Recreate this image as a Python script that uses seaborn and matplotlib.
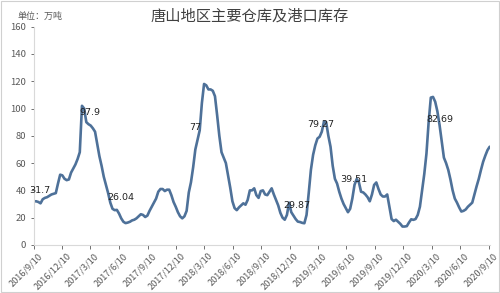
import matplotlib
matplotlib.use("Agg")
import matplotlib.pyplot as plt
import matplotlib.patches as mpatches
import matplotlib.transforms as mtransforms
import seaborn as sns
import pandas as pd
import numpy as np

# ---- data (weekly) ----
start_date = "2016-09-10"
stock = [
    32, 32, 31.5, 30.5, 33.5, 34.5, 35, 36, 37, 37.5,
    38, 45, 51.5, 51, 48.5, 47.5, 48, 53, 56, 59,
    63, 68, 102, 100, 90, 88.5, 87.5, 85.5, 83, 74,
    65, 58, 50, 44, 38, 31, 26.5, 25.5, 25.7, 23,
    19.5, 17, 16, 16.4, 17, 18, 18.5, 19.5, 21, 22.5,
    22, 20.5, 21.5, 25, 28, 31, 34, 39, 41, 41,
    39.5, 40.5, 40.5, 36.5, 31.5, 28, 24, 21, 19.5, 21,
    25, 38.5, 46, 57, 70, 77, 84, 104, 118, 117,
    114, 114, 113, 109, 95, 80, 68, 64, 60, 51,
    42, 32, 27, 25.5, 27.5, 29, 30.5, 29.5, 33, 40,
    40, 41.5, 36.5, 34.5, 39.5, 40, 37, 36.5, 39, 41.5,
    37, 33, 29, 23.5, 20, 18.5, 22, 31, 24, 21.5,
    19, 17.1, 16.8, 16.2, 15.9, 22, 38, 55, 66, 73,
    78, 79.3, 83, 90.5, 90, 80, 72, 58, 48.5, 45,
    39, 34, 30, 27, 24, 26.5, 34, 44, 48.3, 46,
    39, 38.5, 37, 35, 32, 37, 44, 45.8, 41, 37,
    35.5, 35.5, 37, 28, 19, 17.5, 18.5, 17, 15.5, 13.5,
    13.5, 13.8, 16.5, 18.8, 18.4, 19, 22, 28, 40, 52,
    67, 90, 108, 108.5, 105, 98, 88, 76, 64, 60,
    55, 48, 40, 34, 31, 27.5, 24.5, 25, 26, 28,
    29.5, 31, 37, 43, 48.5, 55, 61, 65.5, 69.5, 72,
]
tick_dates = ["2016-09-10", "2016-12-10", "2017-03-10", "2017-06-10", "2017-09-10",
              "2017-12-10", "2018-03-10", "2018-06-10", "2018-09-10", "2018-12-10",
              "2019-03-10", "2019-06-10", "2019-09-10", "2019-12-10", "2020-03-10",
              "2020-06-10", "2020-09-10"]
tick_labels = ["2016/9/10", "2016/12/10", "2017/3/10", "2017/6/10", "2017/9/10",
               "2017/12/10", "2018/3/10", "2018/6/10", "2018/9/10", "2018/12/10",
               "2019/3/10", "2019/6/10", "2019/9/10", "2019/12/10", "2020/3/10",
               "2020/6/10", "2020/9/10"]
# data labels: text, week index, value position
label_texts = ["31.7", "97.9", "26.04", "77", "29.87", "79.27", "39.51", "82.69"]
label_weeks = [2.7, 25.7, 40, 74, 120.4, 131.6, 146.6, 186.2]
label_vals = [40, 97.3, 35, 86, 28.9, 88.2, 48.3, 91.9]

title = "唐山地区主要仓库及港口库存"
unit = "单位：万吨"

# ---- plot ----
sns.set_theme(style="white")
plt.rcParams["font.family"] = ["Noto Sans CJK SC", "DejaVu Sans"]

dates = pd.date_range(start_date, periods=len(stock), freq="7D")
df = pd.DataFrame({"date": dates, "stock": stock})

fig = plt.figure(figsize=(5.0, 2.93), dpi=100)
ax = fig.add_axes([0.068, 0.164, 0.912, 0.745])
sns.lineplot(data=df, x="date", y="stock", ax=ax, color="#4E7199", linewidth=1.9)

ax.set_ylim(0, 160)
ax.set_yticks(range(0, 161, 20))
ax.set_xlim(pd.Timestamp(start_date), pd.Timestamp("2020-09-13"))
ax.set_xticks(pd.to_datetime(tick_dates))
ax.set_xticklabels(tick_labels, rotation=45, ha="right", rotation_mode="anchor")
ax.tick_params(axis="x", labelsize=6.6, colors="#595959", length=3, width=0.6,
               direction="out", bottom=True, pad=1.5)
ax.tick_params(axis="y", labelsize=6.8, colors="#595959", length=2.5, width=0.6,
               direction="out", left=True, pad=3)
shift = mtransforms.ScaledTranslation(4 / 100, 0, fig.dpi_scale_trans)
for lab in ax.get_xticklabels():
    lab.set_transform(lab.get_transform() + shift)
    lab.set_color("#595959")
for lab in ax.get_yticklabels():
    lab.set_color("#595959")
ax.set_xlabel("")
ax.set_ylabel("")
for s in ["top", "right"]:
    ax.spines[s].set_visible(False)
for s in ["left", "bottom"]:
    ax.spines[s].set_color("#D9D9D9")
    ax.spines[s].set_linewidth(0.8)

for t, w, v in zip(label_texts, label_weeks, label_vals):
    d = pd.Timestamp(start_date) + pd.Timedelta(days=7 * w)
    ax.text(d, v, t, fontsize=6.8, ha="center", va="center", color="#222222",
            family=["DejaVu Sans"])

fig.text(0.5, 0.945, title, ha="center", va="center", fontsize=11, color="#404040")
fig.text(0.034, 0.945, unit, ha="left", va="center", fontsize=6.5, color="#595959")

fig.patches.append(mpatches.Rectangle((0.002, 0.003), 0.995, 0.993, transform=fig.transFigure,
                                      fill=False, edgecolor="#D0D0D0", linewidth=0.8))

fig.savefig("out.png", dpi=100)
